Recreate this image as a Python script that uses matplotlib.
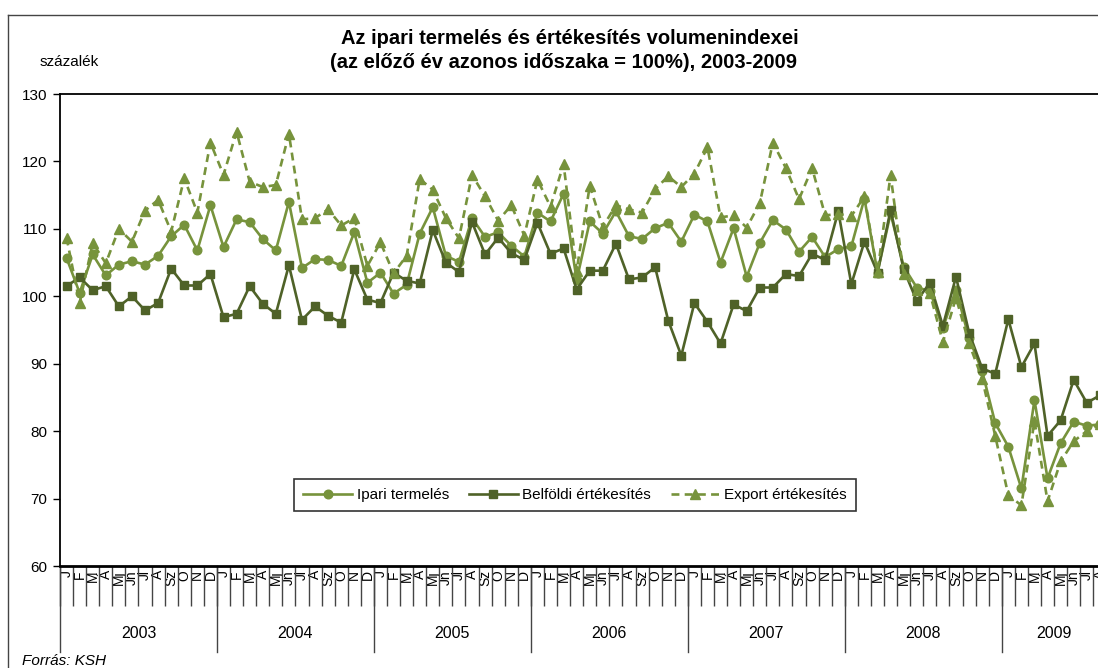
import matplotlib
matplotlib.use("Agg")
import matplotlib.pyplot as plt
from matplotlib.lines import Line2D
import matplotlib.transforms as mtransforms

plt.rcParams['font.family'] = ['Liberation Sans', 'DejaVu Sans']

years = ["2003", "2004", "2005", "2006", "2007", "2008", "2009"]
months = ["J", "F", "M", "Á", "Mj", "Jn", "Jl", "A", "Sz", "O", "N", "D"]

ipari = [
    105.7, 100.5, 106.2, 103.1, 104.7, 105.2, 104.7, 106.0, 108.9, 110.6, 106.8, 113.5,
    107.3, 111.4, 111.0, 108.5, 106.8, 114.0, 104.2, 105.5, 105.4, 104.5, 109.5, 102.0,
    103.5, 100.4, 101.7, 109.3, 113.2, 106.0, 105.1, 111.6, 108.8, 109.5, 107.5, 105.9,
    112.4, 111.1, 115.2, 102.4, 111.1, 109.3, 112.6, 108.9, 108.5, 110.1, 110.9, 108.1,
    112.1, 111.1, 105.0, 110.1, 102.9, 107.9, 111.3, 109.9, 106.6, 108.8, 105.8, 107.0,
    107.4, 114.5, 103.5, 112.3, 104.4, 101.3, 100.8, 95.3, 101.0, 93.8, 88.9, 81.2,
    77.7, 71.5, 84.6, 73.0, 78.2, 81.4, 80.8, 81.0,
]
belfoldi = [
    101.5, 102.8, 100.9, 101.5, 98.5, 100.0, 97.9, 99.0, 104.1, 101.6, 101.6, 103.3,
    96.9, 97.4, 101.5, 98.9, 97.4, 104.6, 96.5, 98.5, 97.1, 96.1, 104.0, 99.5,
    99.0, 103.5, 102.3, 101.9, 109.8, 105.0, 103.6, 111.0, 106.2, 108.7, 106.4, 105.4,
    110.9, 106.3, 107.1, 101.0, 103.8, 103.8, 107.8, 102.5, 102.8, 104.3, 96.4, 91.2,
    99.0, 96.2, 93.0, 98.8, 97.8, 101.3, 101.3, 103.3, 103.0, 106.3, 105.4, 112.6,
    101.8, 108.1, 103.5, 112.8, 104.0, 99.3, 102.0, 95.6, 102.9, 94.6, 89.3, 88.5,
    96.6, 89.5, 93.0, 79.3, 81.6, 87.6, 84.2, 85.3,
]
export = [
    108.7, 99.0, 107.9, 104.9, 110.0, 108.1, 112.7, 114.3, 109.6, 117.5, 112.4, 122.8,
    118.0, 124.4, 117.0, 116.2, 116.5, 124.1, 111.4, 111.6, 112.9, 110.5, 111.6, 104.5,
    108.0, 103.4, 106.0, 117.4, 115.8, 111.6, 108.6, 118.0, 114.8, 111.2, 113.5, 109.0,
    117.3, 113.3, 119.6, 103.8, 116.4, 110.3, 113.5, 112.9, 112.4, 115.9, 117.8, 116.2,
    118.2, 122.1, 111.7, 112.0, 110.2, 113.8, 122.8, 119.0, 114.4, 119.0, 112.0, 112.2,
    111.9, 114.8, 103.6, 118.0, 103.3, 101.0, 100.5, 93.2, 99.8, 93.0, 87.8, 79.3,
    70.5, 69.0, 81.5, 69.6, 75.5, 78.5, 80.0, 81.0,
]
series_names = ["Ipari termelés", "Belföldi értékesítés", "Export értékesítés"]

W, H = 1098, 668
fig = plt.figure(figsize=(W / 100, H / 100), dpi=100)

n = len(ipari)
month_px = 13.08
ax_left, ax_top, ax_bottom = 60, 94, 566
ax = fig.add_axes([ax_left / W, 1 - ax_bottom / H, n * month_px / W, (ax_bottom - ax_top) / H])

x = list(range(n))
c_light = "#77933C"
c_dark = "#4F6228"
ax.plot(x, ipari, color=c_light, lw=1.9, marker="o", ms=6.2, mec=c_light, mfc=c_light,
        label=series_names[0], zorder=3)
ax.plot(x, belfoldi, color=c_dark, lw=1.9, marker="s", ms=6.2, mec=c_dark, mfc=c_dark,
        label=series_names[1], zorder=4)
ax.plot(x, export, color=c_light, lw=1.9, ls=(0, (3, 2)), marker="^", ms=7, mec=c_light,
        mfc=c_light, label=series_names[2], zorder=5)

ax.set_xlim(-0.5, n - 0.5)
ax.set_ylim(60, 130)
ax.set_yticks(range(60, 131, 10))
ax.tick_params(axis="y", direction="out", length=5, width=1, labelsize=11, pad=4)
for s in ax.spines.values():
    s.set_linewidth(1.3)
ax.spines["bottom"].set_linewidth(2)

# month labels at centres, month boundaries as minor ticks
ax.set_xticks(x)
ax.set_xticklabels([months[i % 12] for i in x], rotation=90, fontsize=10, va="top", ha="center")
ax.tick_params(axis="x", which="major", length=0, pad=3)
ax.set_xticks([i - 0.5 for i in range(n + 1)], minor=True)
ax.tick_params(axis="x", which="minor", direction="out", length=29, width=1, color="#444444")

# year boundaries and labels
trans = mtransforms.blended_transform_factory(ax.transData, fig.transFigure)
for k in range(len(years)):
    start = k * 12 - 0.5
    end = min(k * 12 + 11.5, n - 0.5)
    ax.add_line(Line2D([start, start], [1 - 566 / H, 1 - 652 / H], transform=trans,
                       color="#444444", lw=1, clip_on=False))
    ax.text((start + end) / 2, 1 - 634 / H, years[k], transform=trans, ha="center",
            va="center", fontsize=11.5)

# legend
leg = fig.legend(loc="center", bbox_to_anchor=(575 / W, 1 - 495 / H), ncol=3, frameon=True,
                 fancybox=False, edgecolor="black", fontsize=11, handlelength=3.2,
                 columnspacing=1.3, handletextpad=0.3, borderpad=0.6)
leg.get_frame().set_linewidth(1.2)

# titles and texts
fig.text(570 / W, 1 - 38 / H, "Az ipari termelés és értékesítés volumenindexei", ha="center",
         va="center", fontsize=14.5, fontweight="bold")
fig.text(564 / W, 1 - 62 / H, "(az előző év azonos időszaka = 100%), 2003-2009", ha="center",
         va="center", fontsize=14.5, fontweight="bold")
fig.text(40 / W, 1 - 62 / H, "százalék", ha="left", va="center", fontsize=11)
fig.text(22 / W, 1 - 661 / H, "Forrás: KSH", ha="left", va="center", fontsize=11,
         style="italic")

# outer chart frame (cropped on the right and bottom)
fig.add_artist(Line2D([8 / W, 8 / W], [0, 1 - 15 / H], transform=fig.transFigure,
                      color="#444444", lw=1))
fig.add_artist(Line2D([8 / W, 1], [1 - 15 / H, 1 - 15 / H], transform=fig.transFigure,
                      color="#444444", lw=1))

fig.savefig("out.png", dpi=100)
